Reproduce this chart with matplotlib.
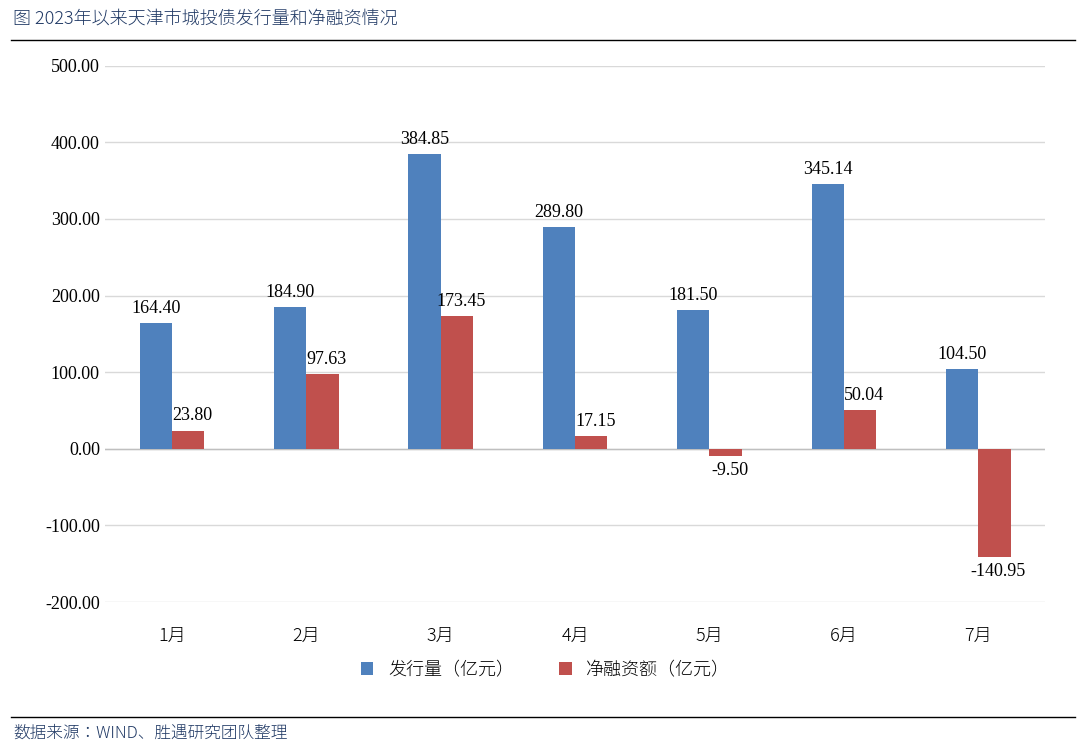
import matplotlib
matplotlib.use("Agg")
import matplotlib.pyplot as plt
from matplotlib import font_manager as fm
import numpy as np

months = ["1月", "2月", "3月", "4月", "5月", "6月", "7月"]
issuance = [164.40, 184.90, 384.85, 289.80, 181.50, 345.14, 104.50]
net_financing = [23.80, 97.63, 173.45, 17.15, -9.50, 50.04, -140.95]
yticks = [-200, -100, 0, 100, 200, 300, 400, 500]

cjk_names = [f.name for f in fm.fontManager.ttflist if "CJK" in f.name]
cjk = "Noto Sans CJK SC" if "Noto Sans CJK SC" in cjk_names else (cjk_names[0] if cjk_names else "DejaVu Sans")
cjk_path = [f.fname for f in fm.fontManager.ttflist if f.name == cjk][0] if cjk_names else None
cjk_fp = fm.FontProperties(fname=cjk_path) if cjk_path else fm.FontProperties(family=cjk)
cjk_bold = fm.FontProperties(fname=cjk_path, weight="bold") if cjk_path else fm.FontProperties(family=cjk, weight="bold")

plt.rcParams["font.family"] = ["Liberation Serif", cjk]
fig = plt.figure(figsize=(10.8, 7.47), dpi=100)
ax = fig.add_axes([0.097, 0.194, 0.871, 0.718])

x = np.arange(len(months))
w = 0.24
blue, red = "#4F81BD", "#C0504D"
ax.bar(x - w/2, issuance, w, color=blue, label="发行量（亿元）", zorder=3)
ax.bar(x + w/2, net_financing, w, color=red, label="净融资额（亿元）", zorder=3)
for xi, v in zip(x, issuance):
    ax.text(xi - w/2, v + 8, f"{v:.2f}", ha="center", va="bottom", fontsize=13)
for xi, v in zip(x, net_financing):
    if v >= 0:
        ax.text(xi + w/2 + 0.03, v + 8, f"{v:.2f}", ha="center", va="bottom", fontsize=13)
    else:
        ax.text(xi + w/2 + 0.03, v - 8, f"{v:.2f}", ha="center", va="top", fontsize=13)

ax.set_ylim(-200, 500)
ax.set_xlim(-0.5, len(months) - 0.5)
ax.set_yticks(yticks)
ax.set_yticklabels([f"{t:.2f}" for t in yticks], fontsize=13)
ax.set_xticks(x)
ax.set_xticklabels(months, fontsize=13)
for lab in ax.get_xticklabels():
    lab.set_fontproperties(fm.FontProperties(fname=cjk_path, size=13) if cjk_path else cjk_fp)
ax.tick_params(length=0, axis="both")
ax.tick_params(axis="x", pad=18)
ax.grid(axis="y", color="#D9D9D9", lw=1, zorder=0)
ax.axhline(0, color="#BFBFBF", lw=1, zorder=2)
for s in ax.spines.values():
    s.set_visible(False)

lp = fm.FontProperties(fname=cjk_path, size=13) if cjk_path else cjk_fp
fig.legend(loc="center", bbox_to_anchor=(0.505, 0.103), ncol=2, frameon=False,
           handlelength=0.7, handleheight=0.7, columnspacing=2.5, prop=lp)

tp = fm.FontProperties(fname=cjk_path, size=13, weight="bold") if cjk_path else cjk_bold
fig.text(0.012, 0.975, "图 2023年以来天津市城投债发行量和净融资情况",
         color="#1F3864", va="center", fontproperties=tp)
fig.add_artist(plt.Line2D([0.01, 0.995], [0.946, 0.946], color="black", lw=1))
fig.add_artist(plt.Line2D([0.01, 0.995], [0.040, 0.040], color="black", lw=1))
sp = fm.FontProperties(fname=cjk_path, size=12) if cjk_path else cjk_fp
fig.text(0.012, 0.018, "数据来源：WIND、胜遇研究团队整理",
         color="#1F3864", va="center", fontproperties=sp)

fig.savefig("out.png", dpi=100)
